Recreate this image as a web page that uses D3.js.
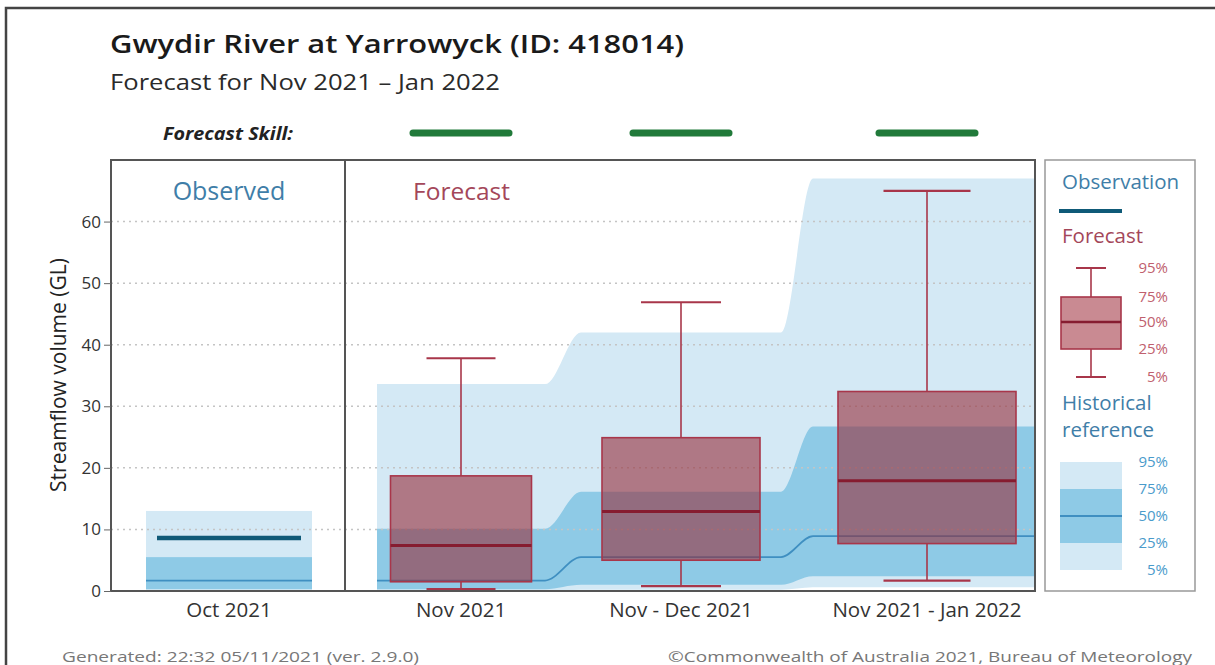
<!DOCTYPE html>
<html>
<head>
<meta charset="utf-8">
<script src="https://cdn.jsdelivr.net/npm/d3@7"></script>
<style>
  html, body { margin: 0; padding: 0; background: #fff; }
  svg { display: block; font-family: "Open Sans", "Noto Sans", sans-serif; }
</style>
</head>
<body>
<svg id="chart" width="1215" height="665"></svg>
<script>
// ---------------- DATA ----------------
const title = "Gwydir River at Yarrowyck (ID: 418014)";
const subtitle = "Forecast for Nov 2021 \u2013 Jan 2022";
const obsCategories = ["Oct 2021"];
const fcCategories = ["Nov 2021", "Nov - Dec 2021", "Nov 2021 - Jan 2022"];
const observedValue = [8.6];
// historical reference percentiles (5, 25, 50, 75, 95) for the observed month
const obsHist5 = [0.0];
const obsHist25 = [0.3];
const obsHist50 = [1.7];
const obsHist75 = [5.5];
const obsHist95 = [13.0];
// forecast box plot percentiles
const fc5 = [0.3, 0.8, 1.7];
const fc25 = [1.5, 5.0, 7.7];
const fc50 = [7.4, 12.9, 17.9];
const fc75 = [18.7, 24.9, 32.4];
const fc95 = [37.8, 46.9, 65.0];
// historical reference percentiles for forecast periods
const hist5 = [0.0, 0.2, 0.6];
const hist25 = [0.3, 1.0, 2.4];
const hist50 = [1.7, 5.5, 8.9];
const hist75 = [10.1, 16.1, 26.7];
const hist95 = [33.6, 42.0, 67.0];
const skillCategories = ["Nov 2021", "Nov - Dec 2021", "Nov 2021 - Jan 2022"];
const yTicks = [0, 10, 20, 30, 40, 50, 60];
const legendPct = ["95%", "75%", "50%", "25%", "5%"];

// ---------------- LAYOUT ----------------
const svg = d3.select("#chart");
const P = { left: 111, right: 1035, top: 160, bottom: 591, divider: 345 };
const C = {
  frame: "#444", axis: "#555", grid: "#c4c4c4",
  light: "#d4e9f5", dark: "#8ecae6", median: "#3f8fc1",
  obs: "#0f5a78", boxFill: "rgb(150,45,58)", boxStroke: "#a8364a",
  boxMed: "#861c30", green: "#217a3a",
  blueText: "#3f7ea8", roseText: "#a4475a"
};

const y = d3.scaleLinear().domain([0, 70]).range([P.bottom, P.top]);
// category index -> x centre (index -1 is the observed month)
const x = d3.scaleLinear().domain([-1, 0, 1, 2]).range([229, 461, 681, 927]);
const boxW = d3.scaleLinear().domain([0, 1, 2]).range([141, 158, 178]);
const capW = d3.scaleLinear().domain([0, 1, 2]).range([69, 80, 87]);
const bandHalf = d3.scaleLinear().domain([-1, 0, 1, 2]).range([83, 84, 100, 114]);

// stretched text helper (fits text to a measured width)
function fitText(sel, len) {
  sel.attr("textLength", len).attr("lengthAdjust", "spacingAndGlyphs");
  return sel;
}

// outer frame
svg.append("rect").attr("x", 6).attr("y", 8).attr("width", 1300).attr("height", 700)
  .attr("fill", "none").attr("stroke", C.frame).attr("stroke-width", 2.5);

// titles
fitText(svg.append("text").attr("x", 110).attr("y", 53).text(title)
  .attr("font-size", 25).attr("font-weight", 600).attr("fill", "#1a1a1a"), 574);
fitText(svg.append("text").attr("x", 110).attr("y", 90).text(subtitle)
  .attr("font-size", 21).attr("fill", "#2a2a2a"), 390);

// forecast skill
fitText(svg.append("text").attr("x", 163).attr("y", 140)
  .text("Forecast Skill:").attr("font-size", 18).attr("font-weight", 700)
  .attr("font-style", "italic").attr("fill", "#222"), 130);
svg.selectAll("line.skill").data(skillCategories).join("line").attr("class", "skill")
  .attr("x1", (d, i) => x(i) - 48).attr("x2", (d, i) => x(i) + 48)
  .attr("y1", 133).attr("y2", 133)
  .attr("stroke", C.green).attr("stroke-width", 7).attr("stroke-linecap", "round");

// clip
svg.append("clipPath").attr("id", "plotclip").append("rect")
  .attr("x", P.left).attr("y", P.top).attr("width", P.right - P.left).attr("height", P.bottom - P.top);
const plot = svg.append("g").attr("clip-path", "url(#plotclip)");

// ---- observed-month historical bands
const oc = x(-1), oh = bandHalf(-1);
plot.append("rect").attr("x", oc - oh).attr("width", 2 * oh)
  .attr("y", y(obsHist95[0])).attr("height", y(obsHist5[0]) - y(obsHist95[0])).attr("fill", C.light);
plot.append("rect").attr("x", oc - oh).attr("width", 2 * oh)
  .attr("y", y(obsHist75[0])).attr("height", y(obsHist25[0]) - y(obsHist75[0])).attr("fill", C.dark);
plot.append("line").attr("x1", oc - oh).attr("x2", oc + oh)
  .attr("y1", y(obsHist50[0])).attr("y2", y(obsHist50[0])).attr("stroke", C.median).attr("stroke-width", 1.8);

// ---- forecast-period historical bands (smooth steps)
function stepPoints(lo, hi) {
  const pts = [];
  fcCategories.forEach((c, i) => {
    const h = bandHalf(i);
    const xr = i === fcCategories.length - 1 ? x(i) + h + 20 : x(i) + h;
    pts.push({ x: x(i) - h, lo: lo ? lo[i] : 0, hi: hi[i] });
    pts.push({ x: xr, lo: lo ? lo[i] : 0, hi: hi[i] });
  });
  return pts;
}
const area = d3.area().x(d => d.x).y0(d => y(d.lo)).y1(d => y(d.hi)).curve(d3.curveMonotoneX);
plot.append("path").datum(stepPoints(hist5, hist95)).attr("d", area).attr("fill", C.light);
plot.append("path").datum(stepPoints(hist25, hist75)).attr("d", area).attr("fill", C.dark);
const medLine = d3.line().x(d => d.x).y(d => y(d.hi)).curve(d3.curveMonotoneX);
plot.append("path").datum(stepPoints(null, hist50)).attr("d", medLine)
  .attr("fill", "none").attr("stroke", C.median).attr("stroke-width", 1.8);

// grid
svg.append("g").selectAll("line").data(yTicks.filter(t => t > 0)).join("line")
  .attr("x1", P.left).attr("x2", P.right).attr("y1", d => y(d)).attr("y2", d => y(d))
  .attr("stroke", C.grid).attr("stroke-width", 1.5).attr("stroke-dasharray", "2,4");

// observed value
svg.append("line").attr("x1", oc - 72).attr("x2", oc + 72)
  .attr("y1", y(observedValue[0])).attr("y2", y(observedValue[0]))
  .attr("stroke", C.obs).attr("stroke-width", 4.5);

// forecast box plots
const boxes = svg.append("g").selectAll("g").data(fcCategories).join("g");
boxes.append("line").attr("x1", (d, i) => x(i)).attr("x2", (d, i) => x(i))
  .attr("y1", (d, i) => y(fc95[i])).attr("y2", (d, i) => y(fc75[i]))
  .attr("stroke", C.boxStroke).attr("stroke-width", 1.6);
boxes.append("line").attr("x1", (d, i) => x(i)).attr("x2", (d, i) => x(i))
  .attr("y1", (d, i) => y(fc25[i])).attr("y2", (d, i) => y(fc5[i]))
  .attr("stroke", C.boxStroke).attr("stroke-width", 1.6);
boxes.append("line").attr("x1", (d, i) => x(i) - capW(i) / 2).attr("x2", (d, i) => x(i) + capW(i) / 2)
  .attr("y1", (d, i) => y(fc95[i])).attr("y2", (d, i) => y(fc95[i]))
  .attr("stroke", C.boxStroke).attr("stroke-width", 2.2);
boxes.append("line").attr("x1", (d, i) => x(i) - capW(i) / 2).attr("x2", (d, i) => x(i) + capW(i) / 2)
  .attr("y1", (d, i) => y(fc5[i])).attr("y2", (d, i) => y(fc5[i]))
  .attr("stroke", C.boxStroke).attr("stroke-width", 2.2);
boxes.append("rect").attr("x", (d, i) => x(i) - boxW(i) / 2).attr("width", (d, i) => boxW(i))
  .attr("y", (d, i) => y(fc75[i])).attr("height", (d, i) => y(fc25[i]) - y(fc75[i]))
  .attr("fill", C.boxFill).attr("fill-opacity", 0.6)
  .attr("stroke", C.boxStroke).attr("stroke-width", 1.6);
boxes.append("line").attr("x1", (d, i) => x(i) - boxW(i) / 2).attr("x2", (d, i) => x(i) + boxW(i) / 2)
  .attr("y1", (d, i) => y(fc50[i])).attr("y2", (d, i) => y(fc50[i]))
  .attr("stroke", C.boxMed).attr("stroke-width", 3);

// plot border and divider
svg.append("rect").attr("x", P.left).attr("y", P.top).attr("width", P.right - P.left)
  .attr("height", P.bottom - P.top).attr("fill", "none").attr("stroke", C.axis).attr("stroke-width", 2);
svg.append("line").attr("x1", P.divider).attr("x2", P.divider).attr("y1", P.top).attr("y2", P.bottom)
  .attr("stroke", C.axis).attr("stroke-width", 2);

// y axis
const yAxis = svg.append("g").attr("transform", `translate(${P.left},0)`)
  .call(d3.axisLeft(y).tickValues(yTicks).tickSize(7).tickPadding(3));
yAxis.select(".domain").remove();
yAxis.selectAll(".tick line").attr("stroke", "#666");
yAxis.selectAll(".tick text").attr("font-size", 17).attr("fill", "#333")
  .attr("font-family", "'Open Sans', sans-serif");

svg.append("text").attr("transform", `translate(66,375) rotate(-90)`).attr("text-anchor", "middle")
  .text("Streamflow volume (GL)").attr("font-size", 21).attr("fill", "#222");

// x labels
svg.append("text").attr("x", x(-1)).attr("y", 617).attr("text-anchor", "middle")
  .text(obsCategories[0]).attr("font-size", 20.5).attr("fill", "#333");
svg.selectAll("text.xl").data(fcCategories).join("text").attr("class", "xl")
  .attr("x", (d, i) => x(i)).attr("y", 617).attr("text-anchor", "middle")
  .text(d => d).attr("font-size", 20.5).attr("fill", "#333");

// panel labels
svg.append("text").attr("x", x(-1)).attr("y", 200).attr("text-anchor", "middle")
  .text("Observed").attr("font-size", 25).attr("fill", C.blueText);
svg.append("text").attr("x", 413).attr("y", 200)
  .text("Forecast").attr("font-size", 24.5).attr("fill", C.roseText);

// ---------------- LEGEND ----------------
const L = svg.append("g");
L.append("rect").attr("x", 1045).attr("y", 160).attr("width", 150).attr("height", 431)
  .attr("fill", "#fff").attr("stroke", "#999").attr("stroke-width", 1.5);
L.append("text").attr("x", 1062).attr("y", 189).text("Observation").attr("font-size", 20.5).attr("fill", C.blueText);
L.append("line").attr("x1", 1059).attr("x2", 1122).attr("y1", 211).attr("y2", 211)
  .attr("stroke", C.obs).attr("stroke-width", 4);
L.append("text").attr("x", 1062).attr("y", 243).text("Forecast").attr("font-size", 20.5).attr("fill", C.roseText);
// legend box plot
const lx = 1091, lyPos = [268, 297, 322, 349, 377];
L.append("line").attr("x1", lx).attr("x2", lx).attr("y1", lyPos[0]).attr("y2", lyPos[4])
  .attr("stroke", C.boxStroke).attr("stroke-width", 1.6);
[0, 4].forEach(k => L.append("line").attr("x1", lx - 15).attr("x2", lx + 15)
  .attr("y1", lyPos[k]).attr("y2", lyPos[k]).attr("stroke", C.boxStroke).attr("stroke-width", 2));
L.append("rect").attr("x", lx - 30).attr("width", 60).attr("y", lyPos[1]).attr("height", lyPos[3] - lyPos[1])
  .attr("fill", "#c98a92").attr("stroke", C.boxStroke).attr("stroke-width", 1.6);
L.append("line").attr("x1", lx - 30).attr("x2", lx + 30).attr("y1", lyPos[2]).attr("y2", lyPos[2])
  .attr("stroke", C.boxMed).attr("stroke-width", 2.5);
L.selectAll("text.fp").data(legendPct).join("text").attr("class", "fp")
  .attr("x", 1168).attr("y", (d, i) => lyPos[i] + 5).attr("text-anchor", "end")
  .text(d => d).attr("font-size", 15).attr("fill", "#c0606e");
L.append("text").attr("x", 1062).attr("y", 410).text("Historical").attr("font-size", 20.5).attr("fill", C.blueText);
L.append("text").attr("x", 1062).attr("y", 437).text("reference").attr("font-size", 20.5).attr("fill", C.blueText);
const hy = [462, 489, 516, 543, 570];
L.append("rect").attr("x", 1060).attr("width", 62).attr("y", hy[0]).attr("height", hy[4] - hy[0]).attr("fill", C.light);
L.append("rect").attr("x", 1060).attr("width", 62).attr("y", hy[1]).attr("height", hy[3] - hy[1]).attr("fill", C.dark);
L.append("line").attr("x1", 1060).attr("x2", 1122).attr("y1", hy[2]).attr("y2", hy[2])
  .attr("stroke", C.median).attr("stroke-width", 1.8);
L.selectAll("text.hp").data(legendPct).join("text").attr("class", "hp")
  .attr("x", 1168).attr("y", (d, i) => hy[i] + 5).attr("text-anchor", "end")
  .text(d => d).attr("font-size", 15).attr("fill", "#4a9bcb");

// footer
fitText(svg.append("text").attr("x", 62).attr("y", 662).text("Generated: 22:32 05/11/2021 (ver. 2.9.0)")
  .attr("font-size", 15).attr("fill", "#777"), 357);
fitText(svg.append("text").attr("x", 668).attr("y", 662)
  .text("\u00A9Commonwealth of Australia 2021, Bureau of Meteorology").attr("font-size", 15).attr("fill", "#777"), 524);
</script>
</body>
</html>
